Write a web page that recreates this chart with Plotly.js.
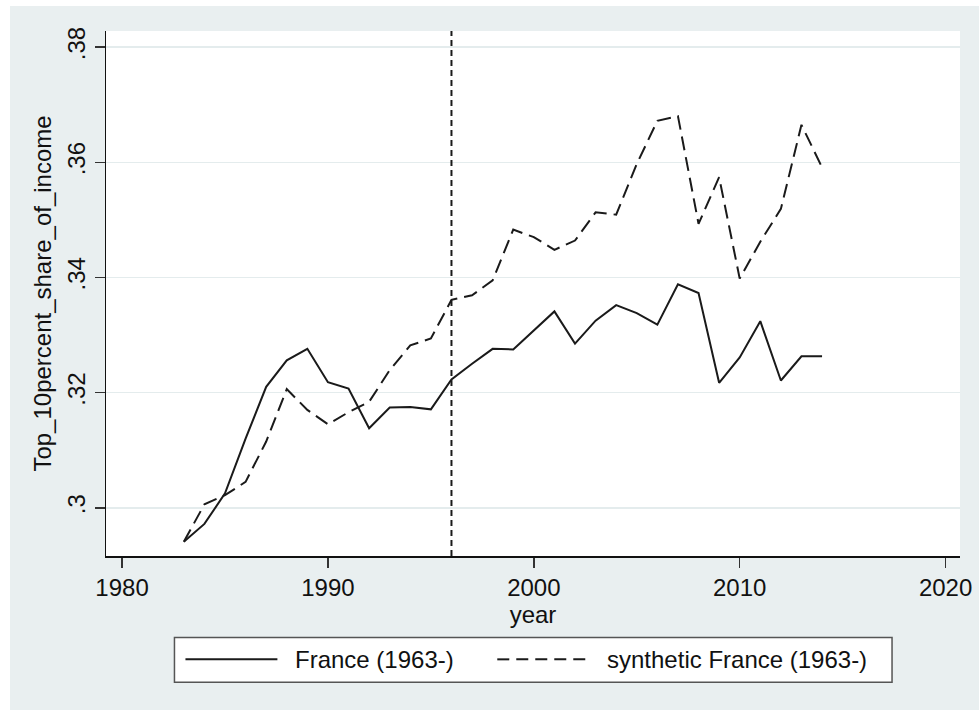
<!DOCTYPE html>
<html>
<head>
<meta charset="utf-8">
<script src="https://cdn.plot.ly/plotly-3.0.1.min.js"></script>
<style>
  html, body { margin: 0; padding: 0; background: #ffffff; width: 979px; height: 710px; overflow: hidden; }
  #chart { position: absolute; left: 10px; top: 6px; width: 969px; height: 704px; }
</style>
</head>
<body>
<div id="chart"></div>
<script>
// ---- data ----
var years = [1983,1984,1985,1986,1987,1988,1989,1990,1991,1992,1993,1994,1995,1996,1997,1998,1999,2000,2001,2002,2003,2004,2005,2006,2007,2008,2009,2010,2011,2012,2013,2014];
var franceValues = [0.2941,0.2972,0.3025,0.3120,0.3210,0.3256,0.3276,0.3218,0.3207,0.3138,0.3174,0.3175,0.3171,0.3223,0.3250,0.3276,0.3275,0.3308,0.3341,0.3285,0.3325,0.3352,0.3338,0.3318,0.3388,0.3373,0.3217,0.3261,0.3324,0.3221,0.3263,0.3263];
var syntheticValues = [0.2941,0.3006,0.3022,0.3045,0.3115,0.3206,0.3170,0.3145,0.3166,0.3184,0.3239,0.3282,0.3294,0.3361,0.3369,0.3395,0.3483,0.3470,0.3448,0.3464,0.3513,0.3509,0.3597,0.3672,0.3680,0.3493,0.3574,0.3398,0.3462,0.3519,0.3665,0.3591];
var seriesNames = ["France (1963-)", "synthetic France (1963-)"];
var treatmentYear = 1996;
var xTickVals = [1980,1990,2000,2010,2020];
var xTickText = ["1980","1990","2000","2010","2020"];
var yTickVals = [0.30,0.32,0.34,0.36,0.38];
var yTickText = [".3",".32",".34",".36",".38"];
var xTitle = "year";
var yTitle = "Top_10percent_share_of_income";

// ---- layout geometry (pixels within the chart div) ----
var W = 969, H = 704;
var plotL = 95.5, plotR = 950, plotT = 24.7, plotB = 550.5;
function px2x(p) { return (p - plotL) / (plotR - plotL); }
function py2y(p) { return (plotB - p) / (plotB - plotT); }

var FONT = "Liberation Sans, Arial, Helvetica, sans-serif";
var BG = "#e9eff0";
var GRID = "#e4eced";

var traces = [
  { x: years, y: franceValues, name: seriesNames[0], type: "scatter", mode: "lines",
    line: { color: "#1a1a1a", width: 2, dash: "solid" }, showlegend: false, hoverinfo: "x+y" },
  { x: years, y: syntheticValues, name: seriesNames[1], type: "scatter", mode: "lines",
    line: { color: "#1a1a1a", width: 2, dash: "14px,7px" }, showlegend: false, hoverinfo: "x+y" }
];

// legend (drawn as a box with samples and text)
var legTop = 632, legBot = 677, legL = 164, legR = 882, legMid = 654;
var shapes = [
  { type: "line", xref: "x", yref: "paper", x0: treatmentYear, x1: treatmentYear, y0: 0, y1: 1,
    line: { color: "#1a1a1a", width: 2, dash: "6px,4px" } },
  { type: "rect", xref: "paper", yref: "paper", x0: px2x(legL), x1: px2x(legR), y0: py2y(legBot), y1: py2y(legTop),
    fillcolor: "#ffffff", line: { color: "#555555", width: 1.5 } },
  { type: "line", xref: "paper", yref: "paper", x0: px2x(175), x1: px2x(267), y0: py2y(legMid), y1: py2y(legMid),
    line: { color: "#1a1a1a", width: 2, dash: "solid" } },
  { type: "line", xref: "paper", yref: "paper", x0: px2x(487), x1: px2x(581), y0: py2y(legMid), y1: py2y(legMid),
    line: { color: "#1a1a1a", width: 2, dash: "12px,7px" } }
];
var annotations = [
  { xref: "paper", yref: "paper", x: px2x(283), y: py2y(legMid), xanchor: "left", yanchor: "middle",
    text: seriesNames[0], showarrow: false, font: { family: FONT, size: 24, color: "#111" } },
  { xref: "paper", yref: "paper", x: px2x(595), y: py2y(legMid), xanchor: "left", yanchor: "middle",
    text: seriesNames[1], showarrow: false, font: { family: FONT, size: 24, color: "#111" } }
];

var layout = {
  width: W, height: H,
  paper_bgcolor: BG, plot_bgcolor: "#ffffff",
  margin: { l: plotL, r: W - plotR, t: plotT, b: H - plotB, pad: 0 },
  font: { family: FONT, size: 24, color: "#111" },
  showlegend: false,
  xaxis: {
    range: [1979.22, 2020.70], tickmode: "array", tickvals: xTickVals, ticktext: xTickText,
    ticks: "outside", ticklen: 10, tickwidth: 1.5, tickcolor: "#333",
    showline: true, linecolor: "#111", linewidth: 1.5, showgrid: false, zeroline: false,
    tickfont: { family: FONT, size: 24, color: "#111" },
    title: { text: xTitle, font: { family: FONT, size: 24, color: "#111" }, standoff: 2 },
    automargin: false
  },
  yaxis: {
    range: [0.29163, 0.38279], tickmode: "array", tickvals: yTickVals, ticktext: yTickText,
    ticks: "outside", ticklen: 10, tickwidth: 1.5, tickcolor: "#333", tickangle: -90,
    showline: true, linecolor: "#111", linewidth: 1.5, showgrid: true, gridcolor: GRID, gridwidth: 1.5,
    zeroline: false,
    tickfont: { family: FONT, size: 24, color: "#111" },
    title: { text: yTitle, font: { family: FONT, size: 24, color: "#111" }, standoff: 4 },
    automargin: false
  },
  shapes: shapes,
  annotations: annotations
};

Plotly.newPlot("chart", traces, layout, { staticPlot: true, displayModeBar: false });
</script>
</body>
</html>
